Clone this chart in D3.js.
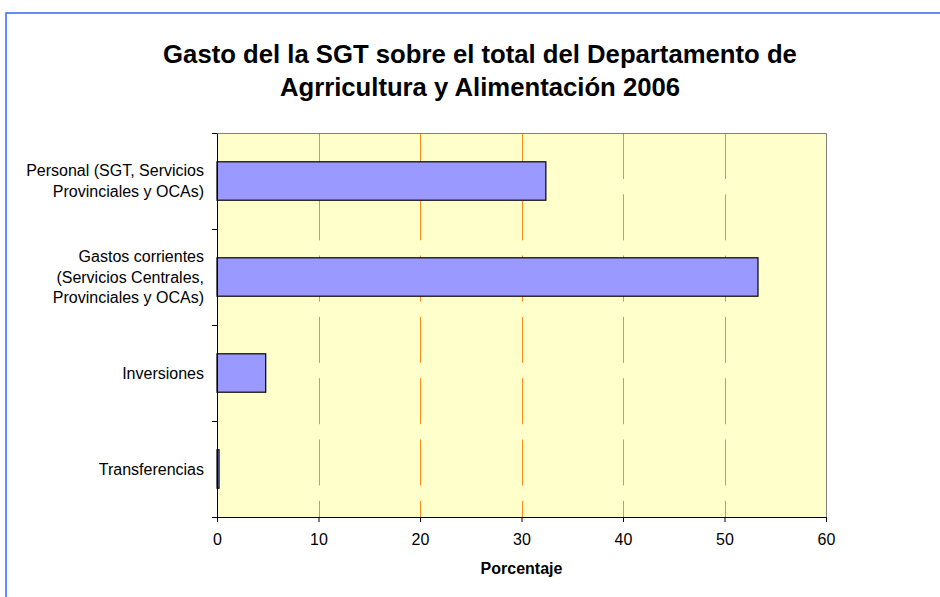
<!DOCTYPE html>
<html>
<head>
<meta charset="utf-8">
<script src="https://cdn.jsdelivr.net/npm/d3@7"></script>
<style>
  body { margin: 0; background: #fff; }
  text { font-family: "Liberation Sans", Arial, sans-serif; }
</style>
</head>
<body>
<div class="canvas"></div>
<script>
// chart data
const categories = [
  ['Personal (SGT, Servicios', 'Provinciales y OCAs)'],
  ['Gastos corrientes', '(Servicios Centrales,', 'Provinciales y OCAs)'],
  ['Inversiones'],
  ['Transferencias']
]
const values = [32.4, 53.3, 4.8, 0.2]
const xTicks = [0, 10, 20, 30, 40, 50, 60]
const titleLines = ['Gasto del la SGT sobre el total del Departamento de', 'Agrricultura y Alimentación 2006']
const xTitle = 'Porcentaje'

const width = 940, height = 597
const plot = {left: 217, top: 133, right: 826, bottom: 517}

const svg = d3.select('.canvas').append('svg')
    .attr('width', width)
    .attr('height', height)

// outer chart frame (runs off the right and bottom edges)
svg.append('rect')
    .attr('x', 6)
    .attr('y', 13)
    .attr('width', 1000)
    .attr('height', 700)
    .attr('fill', 'none')
    .attr('stroke', '#3366FF')
    .attr('stroke-width', 1.5)

// title
svg.append('text')
    .attr('x', 480)
    .attr('y', 63)
    .attr('text-anchor', 'middle')
    .style('font-size', '25.7px')
    .style('font-weight', 'bold')
    .selectAll('tspan')
    .data(titleLines)
    .join('tspan')
    .attr('x', 480)
    .attr('dy', (d, i) => i === 0 ? 0 : 33)
    .text(d => d)

const x = d3.scaleLinear()
    .domain([0, 60])
    .range([plot.left, plot.right])

const y = d3.scaleBand()
    .domain(d3.range(categories.length))
    .range([plot.top, plot.bottom])
    .paddingInner(0.6)
    .paddingOuter(0.3)

// plot background
svg.append('rect')
    .attr('x', plot.left)
    .attr('y', plot.top)
    .attr('width', plot.right - plot.left)
    .attr('height', plot.bottom - plot.top)
    .attr('fill', '#FFFFCC')

// dashed vertical gridlines
svg.append('g')
    .selectAll('line')
    .data(xTicks.slice(1, -1))
    .join('line')
    .attr('x1', d => Math.round(x(d)) + 0.5)
    .attr('x2', d => Math.round(x(d)) + 0.5)
    .attr('y1', plot.top)
    .attr('y2', plot.bottom)
    .attr('stroke', '#FF8C1A')
    .attr('stroke-width', 1)
    .attr('stroke-dasharray', '46,15.3')

// plot border (top and right in grey)
svg.append('path')
    .attr('d', `M${plot.left},${plot.top + 0.5}H${plot.right + 0.5}V${plot.bottom}`)
    .attr('fill', 'none')
    .attr('stroke', '#808080')
    .attr('stroke-width', 1)

// bars
svg.append('g')
    .selectAll('rect')
    .data(values)
    .join('rect')
    .attr('x', x(0))
    .attr('y', (d, i) => y(i))
    .attr('width', d => x(d) - x(0))
    .attr('height', y.bandwidth())
    .attr('fill', '#9999FF')
    .attr('stroke', '#000')
    .attr('stroke-width', 1.2)

// x axis
const xAxis = svg.append('g')
    .attr('transform', `translate(0,${plot.bottom})`)
    .call(d3.axisBottom(x).tickValues(xTicks).tickSize(5).tickSizeOuter(0).tickPadding(12))
xAxis.selectAll('text')
    .style('font-size', '16px')
    .attr('fill', '#000')
xAxis.select('.domain').attr('stroke', '#000')

// y axis: ticks between categories
const bandStep = (plot.bottom - plot.top) / categories.length
const yAxisScale = d3.scaleLinear().domain([0, categories.length]).range([plot.top, plot.bottom])
const yAxis = svg.append('g')
    .attr('transform', `translate(${plot.left},0)`)
    .call(d3.axisLeft(yAxisScale).ticks(categories.length).tickSize(5).tickSizeOuter(0).tickFormat(''))
yAxis.select('.domain').attr('stroke', '#000')

// category labels
svg.append('g')
    .selectAll('text')
    .data(categories)
    .join('text')
    .attr('text-anchor', 'end')
    .style('font-size', '16px')
    .attr('fill', '#000')
    .each(function (lines, i) {
      const cy = plot.top + bandStep * (i + 0.5)
      const lh = 20.5
      const y0 = cy - (lines.length - 1) * lh / 2 + 5.7
      d3.select(this).selectAll('tspan')
        .data(lines)
        .join('tspan')
        .attr('x', 204)
        .attr('y', (d, j) => y0 + j * lh)
        .text(d => d)
    })

// axis title
svg.append('text')
    .attr('x', (plot.left + plot.right) / 2)
    .attr('y', 574)
    .attr('text-anchor', 'middle')
    .style('font-size', '16px')
    .style('font-weight', 'bold')
    .text(xTitle)
</script>
</body>
</html>
